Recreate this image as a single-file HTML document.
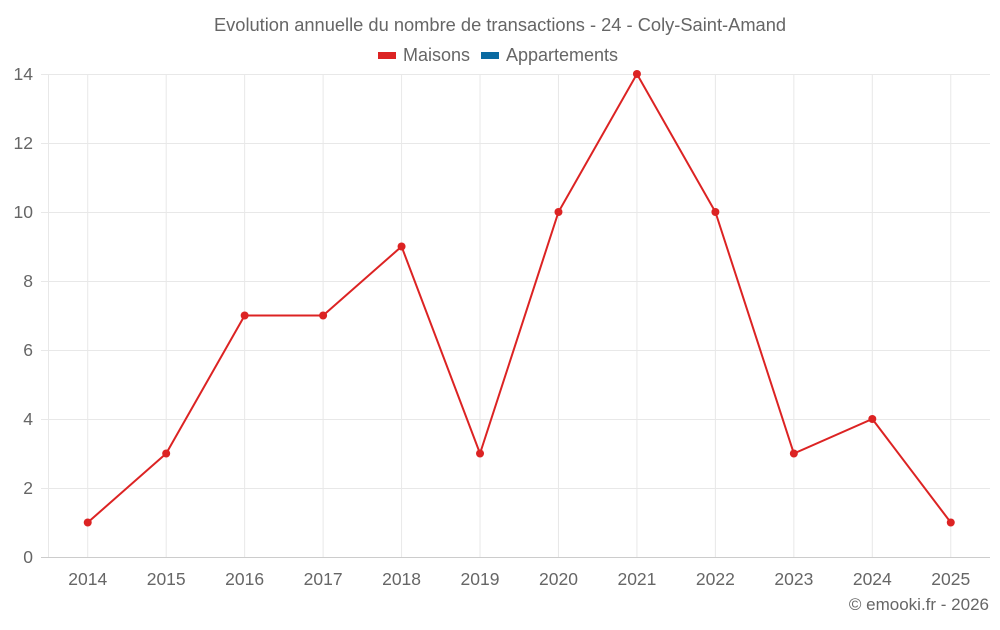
<!DOCTYPE html>
<html><head><meta charset="utf-8"><style>
body{margin:0;background:#fff;width:1000px;height:625px;overflow:hidden}
svg{font-family:"Liberation Sans",sans-serif}
</style></head><body>
<svg id="c" width="1000" height="625">
<text x="500" y="31" text-anchor="middle" font-size="18.3" fill="#666">Evolution annuelle du nombre de transactions - 24 - Coly-Saint-Amand</text>
<g><rect x="378" y="52" width="18" height="7" fill="#dc2323"/><text x="403" y="61" font-size="18" fill="#666">Maisons</text></g>
<g><rect x="481" y="52" width="18" height="7" fill="#0a6aa1"/><text x="506" y="61" font-size="18" fill="#666">Appartements</text></g>
<text x="989" y="610" text-anchor="end" font-size="17" fill="#666">© emooki.fr - 2026</text>
<g id="grid"></g><g id="series"></g>
</svg>
<script>
const categories=["2014","2015","2016","2017","2018","2019","2020","2021","2022","2023","2024","2025"];
const maisons=[1,3,7,7,9,3,10,14,10,3,4,1];
const yTicks=[0,2,4,6,8,10,12,14];
const NS="http://www.w3.org/2000/svg";
const L=48.5,R=990,T=74,B=557,yMax=14;
const step=(R-L)/categories.length;
const x=i=>L+step*(i+0.5);
const y=v=>B-(v/yMax)*(B-T);
const g=document.getElementById('grid'),s=document.getElementById('series');
function mk(tag,a,p){const e=document.createElementNS(NS,tag);for(const k in a)e.setAttribute(k,a[k]);p.appendChild(e);return e;}
yTicks.forEach(v=>{
 const ln=mk('line',{x1:41,x2:R,y1:y(v)+0.5,y2:y(v)+0.5,stroke:v===0?'#ccc':'#e8e8e8'},g);
 
 
 const t=mk('text',{x:33,y:y(v)+6,'text-anchor':'end','font-size':17.5,fill:'#666'},g);
 t.textContent=v;
 
 
});
const lv=mk('line',{x1:L,x2:L,y1:T,y2:B,stroke:'#e8e8e8'},g);


categories.forEach((c,i)=>{
 const ln=mk('line',{x1:x(i),x2:x(i),y1:T,y2:B,stroke:'#e8e8e8'},g);
 
 
 const t=mk('text',{x:x(i),y:585,'text-anchor':'middle','font-size':17.5,fill:'#666'},g);
 t.textContent=c;
 
 
});
const pl=mk('polyline',{points:maisons.map((v,i)=>x(i)+','+y(v)).join(' '),fill:'none',stroke:'#dc2323','stroke-width':2},s);


maisons.forEach((v,i)=>{
 const c=mk('circle',{cx:x(i),cy:y(v),r:4,fill:'#dc2323'},s);
 
 
});
</script>
</body></html>
